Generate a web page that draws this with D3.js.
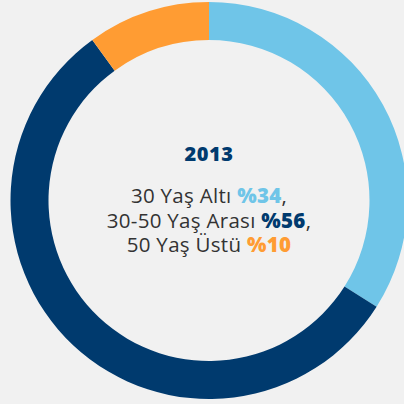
<!DOCTYPE html>
<html>
<head>
<meta charset="utf-8">
<script src="https://cdn.jsdelivr.net/npm/d3@7"></script>
<style>
  html, body { margin: 0; padding: 0; background: #f1f1f1; }
  svg { display: block; }
  text { font-family: "Open Sans", "Noto Sans", sans-serif; }
</style>
</head>
<body>
<svg width="404" height="404"></svg>
<script>
// data
var labels = ["30 Yaş Altı", "30-50 Yaş Arası", "50 Yaş Üstü"];
var values = [34, 56, 10];
var colors = ["#6fc5e8", "#003a6e", "#ff9c33"];
var year = "2013";

var svg = d3.select("svg"),
    cx = 209, cy = 200.5,
    outerR = 198.5, innerR = 160.5;

var g = svg.append("g").attr("transform", "translate(" + cx + "," + cy + ")");

var pie = d3.pie().sort(null).value(d => d);
var arc = d3.arc().innerRadius(innerR).outerRadius(outerR);

g.selectAll(".slice")
    .data(pie(values))
    .enter().append("path")
    .attr("class", "slice")
    .attr("d", arc)
    .attr("fill", (d, i) => colors[i]);

// center title
g.append("text")
    .attr("text-anchor", "middle")
    .attr("y", -39.5)
    .attr("font-size", 20)
    .attr("font-weight", 800)
    .attr("letter-spacing", 0.5)
    .attr("fill", "#003a6e")
    .text(year);

// legend lines
var lines = g.selectAll(".line")
    .data(labels)
    .enter().append("text")
    .attr("class", "line")
    .attr("text-anchor", "middle")
    .attr("y", (d, i) => 2.5 + i * 24.5)
    .attr("font-size", 20.5)
    .attr("letter-spacing", 0.3)
    .attr("fill", "#333333");

lines.append("tspan").text(d => d + " ");
lines.append("tspan")
    .attr("font-weight", 800)
    .attr("fill", (d, i) => colors[i])
    .text((d, i) => "%" + values[i]);
lines.append("tspan").text((d, i) => i < labels.length - 1 ? "," : "");
</script>
</body>
</html>
